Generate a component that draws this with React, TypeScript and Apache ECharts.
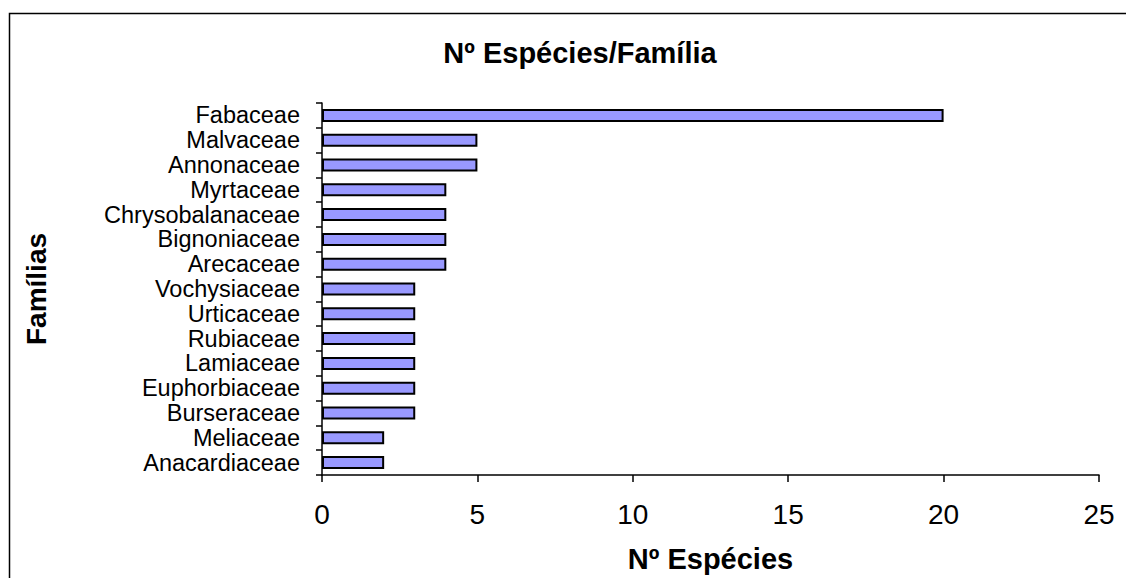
import React, { useEffect, useRef } from "react";
import * as echarts from "echarts";

const families = [
  "Fabaceae",
  "Malvaceae",
  "Annonaceae",
  "Myrtaceae",
  "Chrysobalanaceae",
  "Bignoniaceae",
  "Arecaceae",
  "Vochysiaceae",
  "Urticaceae",
  "Rubiaceae",
  "Lamiaceae",
  "Euphorbiaceae",
  "Burseraceae",
  "Meliaceae",
  "Anacardiaceae",
];
const speciesCount = [20, 5, 5, 4, 4, 4, 4, 3, 3, 3, 3, 3, 3, 2, 2];
const xTicks = [0, 5, 10, 15, 20, 25];

const titleText = "Nº Espécies/Família";
const xName = "Nº Espécies";
const yName = "Famílias";

export default function App() {
  const ref = useRef<HTMLDivElement>(null);
  useEffect(() => {
    if (!ref.current) return;
    const chart = echarts.init(ref.current, null, { renderer: "svg" });
    const font = "Liberation Sans, Arial, Helvetica, sans-serif";
    chart.setOption({
      animation: false,
      backgroundColor: "#ffffff",
      textStyle: { fontFamily: font },
      title: {
        text: titleText,
        left: 575,
        top: 33,
        textAlign: "center",
        textStyle: { fontSize: 29, fontWeight: "bold", color: "#000", fontFamily: font },
      },
      graphic: [
        {
          type: "rect",
          shape: { x: 9.5, y: 13.5, width: 1300, height: 800 },
          style: { fill: "none", stroke: "#000", lineWidth: 1.5 },
          silent: true,
        },
      ],
      grid: { left: 322, right: 27, top: 103, bottom: 103, containLabel: false },
      xAxis: {
        type: "value",
        min: xTicks[0],
        max: xTicks[xTicks.length - 1],
        interval: 5,
        name: xName,
        nameLocation: "middle",
        nameGap: 69,
        nameTextStyle: { fontSize: 29, fontWeight: "bold", color: "#000", fontFamily: font },
        axisLine: { show: true, lineStyle: { color: "#000", width: 1.5 } },
        axisTick: { show: true, length: 7, lineStyle: { color: "#000", width: 1.5 } },
        axisLabel: { fontSize: 28, color: "#000", margin: 25, fontFamily: font },
        splitLine: { show: false },
      },
      yAxis: {
        type: "category",
        data: families,
        inverse: true,
        name: yName,
        nameLocation: "middle",
        nameGap: 272,
        nameRotate: 90,
        nameTextStyle: { fontSize: 28, fontWeight: "bold", color: "#000", fontFamily: font },
        axisLine: { show: true, lineStyle: { color: "#000", width: 1.5 } },
        axisTick: { show: true, length: 6, inside: false, lineStyle: { color: "#000", width: 1.5 } },
        axisLabel: { fontSize: 23.5, color: "#000", margin: 22, interval: 0, fontFamily: font },
        splitLine: { show: false },
      },
      series: [
        {
          type: "bar",
          data: speciesCount,
          barWidth: 13,
          itemStyle: { color: "#9999FF", borderColor: "#000", borderWidth: 2 },
        },
      ],
    });
    return () => chart.dispose();
  }, []);
  return (
    <div
      ref={ref}
      style={{ position: "fixed", left: 0, top: 0, width: 1126, height: 578 }}
    />
  );
}
